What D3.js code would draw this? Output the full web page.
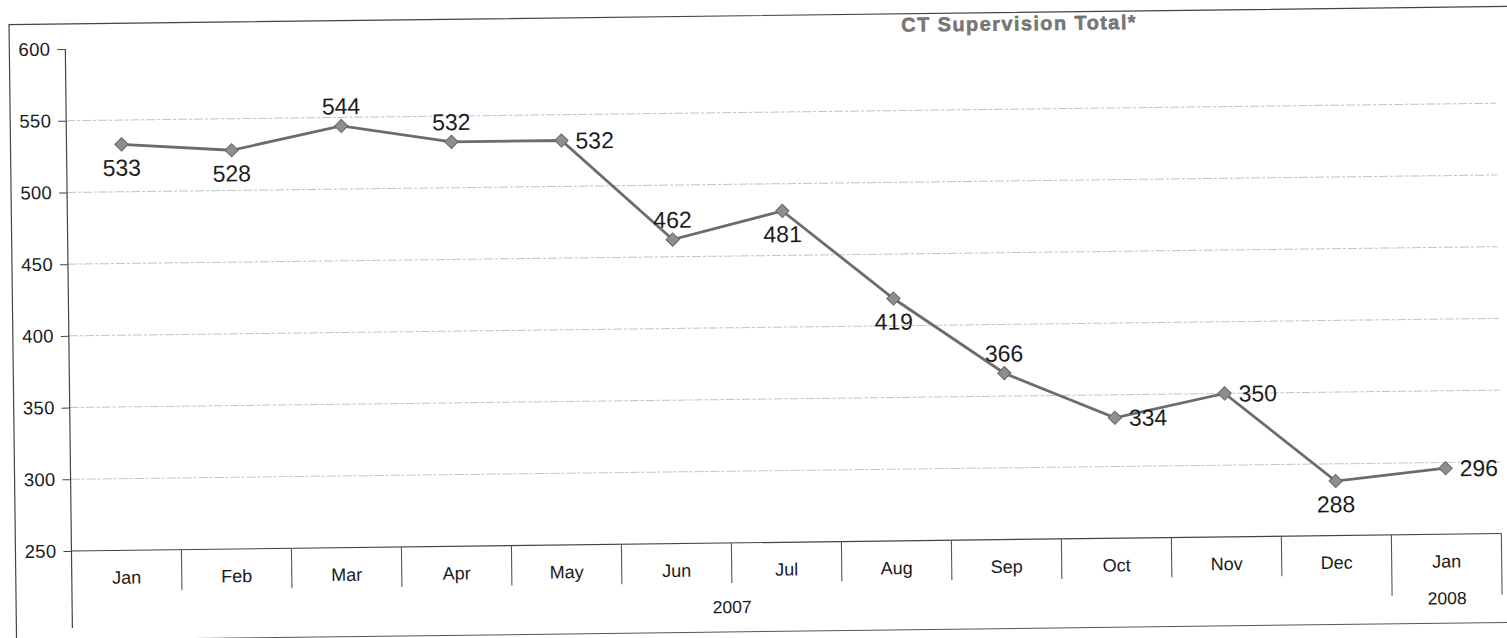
<!DOCTYPE html>
<html>
<head>
<meta charset="utf-8">
<script src="https://cdn.jsdelivr.net/npm/d3@7"></script>
<style>
  html, body { margin: 0; padding: 0; background: #fff; }
  svg { display: block; font-family: "Liberation Sans", Arial, sans-serif; }
</style>
</head>
<body>
<svg id="chart" width="1507" height="638"></svg>
<script>
// ---- data ----
const months = ["Jan","Feb","Mar","Apr","May","Jun","Jul","Aug","Sep","Oct","Nov","Dec","Jan"];
const values = [533, 528, 544, 532, 532, 462, 481, 419, 366, 334, 350, 288, 296];
const labelPlacement = ["below","below","above","above","right","above","below","below","above","right","right","below","right"];
const yearLabels = ["2007", "2008"];
const yearSpans = [12, 1];
const yTicks = [250, 300, 350, 400, 450, 500, 550, 600];
const gridTicks = [300, 350, 400, 450, 500, 550];
const chartTitle = "CT Supervision Total*";

// ---- layout ----
(function () {
const svg = d3.select("#chart");
const plotLeft = 69, plotRight = 1499, plotTop = 49, plotBase = 551;
const FONT = "Liberation Sans, Arial, sans-serif";
const g = svg.append("g").attr("transform", "rotate(-0.7, 69, 350)");

const x = d3.scaleBand().domain(d3.range(months.length)).range([plotLeft, plotRight]).paddingInner(0).paddingOuter(0);
const y = d3.scaleLinear().domain([250, 600]).range([plotBase, plotTop]);

// frame
g.append("path")
  .attr("d", "M13,700 L13,24 L1560,24")
  .attr("fill", "none").attr("stroke", "#444").attr("stroke-width", 1.2);
g.append("line")
  .attr("x1", 13).attr("x2", 1560).attr("y1", 640).attr("y2", 640)
  .attr("stroke", "#555").attr("stroke-width", 1);

// gridlines
g.append("g").selectAll("line").data(gridTicks).join("line")
  .attr("x1", plotLeft).attr("x2", plotRight)
  .attr("y1", d => y(d)).attr("y2", d => y(d))
  .attr("stroke", "#c4c4c4").attr("stroke-width", 1)
  .attr("stroke-dasharray", "9,2,3,2");

// y axis
const yAxis = d3.axisLeft(y).tickValues(yTicks).tickSize(8).tickPadding(7).tickFormat(d3.format("d"));
const ya = g.append("g").attr("transform", `translate(${plotLeft},0)`).call(yAxis);
ya.attr("font-size", null).attr("font-family", null);
ya.select(".domain").remove();
ya.selectAll(".tick line").attr("stroke", "#444");
ya.selectAll(".tick text").attr("fill", "#1a1a1a")
  .style("font-size", "18.5px").style("font-family", FONT).attr("letter-spacing", 0.3);
g.append("line").attr("x1", plotLeft).attr("x2", plotLeft).attr("y1", plotTop).attr("y2", 628)
  .attr("stroke", "#444").attr("stroke-width", 1.2);

// x baseline
g.append("line").attr("x1", plotLeft).attr("x2", plotRight).attr("y1", plotBase).attr("y2", plotBase)
  .attr("stroke", "#444").attr("stroke-width", 1.2);

// category separators
const boundaries = d3.range(1, months.length + 1);
const yearEnds = [];
let acc = 0;
yearSpans.forEach(s => { acc += s; yearEnds.push(acc); });
g.append("g").selectAll("line").data(boundaries).join("line")
  .attr("x1", i => x(i - 1) + x.bandwidth()).attr("x2", i => x(i - 1) + x.bandwidth())
  .attr("y1", plotBase).attr("y2", i => yearEnds.includes(i) ? 612 : 591)
  .attr("stroke", "#555").attr("stroke-width", 1.1);

// month labels
g.append("g").selectAll("text").data(months).join("text")
  .attr("x", (d, i) => x(i) + x.bandwidth() / 2)
  .attr("y", 578).attr("dy", "0.35em")
  .attr("text-anchor", "middle").style("font-size", "18px").style("font-family", FONT).attr("fill", "#1a1a1a")
  .text(d => d);

// year labels
let start = 0;
const yearData = yearLabels.map((lab, k) => {
  const s = start; start += yearSpans[k];
  return { lab, s, e: start - 1 };
});
g.append("g").selectAll("text").data(yearData).join("text")
  .attr("x", d => (x(d.s) + x(d.e) + x.bandwidth()) / 2)
  .attr("y", 615).attr("dy", "0.35em")
  .attr("text-anchor", "middle").style("font-size", "17.5px").style("font-family", FONT).attr("fill", "#1a1a1a")
  .text(d => d.lab);

// line
const line = d3.line().x((d, i) => x(i) + x.bandwidth() / 2).y(d => y(d));
g.append("path").datum(values)
  .attr("d", line).attr("fill", "none")
  .attr("stroke", "#6c6c6c").attr("stroke-width", 2.8);

// markers
const sym = d3.symbol().type(d3.symbolSquare).size(88);
g.append("g").selectAll("path").data(values).join("path")
  .attr("d", sym)
  .attr("transform", (d, i) => `translate(${x(i) + x.bandwidth() / 2},${y(d)}) rotate(45)`)
  .attr("fill", "#8e8e8e").attr("stroke", "#666").attr("stroke-width", 1);

// data labels
g.append("g").selectAll("text").data(values).join("text")
  .attr("x", (d, i) => {
    const cx = x(i) + x.bandwidth() / 2;
    return labelPlacement[i] === "right" ? cx + 14 : cx;
  })
  .attr("y", (d, i) => {
    const p = labelPlacement[i];
    return y(d) + (p === "above" ? -20 : p === "below" ? 23 : 0);
  })
  .attr("dy", "0.36em")
  .attr("text-anchor", (d, i) => labelPlacement[i] === "right" ? "start" : "middle")
  .style("font-size", "23px").style("font-family", FONT).attr("fill", "#1c1c1c")
  .text(d => d);

// title
g.append("text")
  .attr("x", 1023).attr("y", 35).attr("dy", "0.35em")
  .attr("text-anchor", "middle")
  .style("font-size", "20px").style("font-family", FONT).attr("font-weight", "bold").attr("letter-spacing", 1.4)
  .attr("fill", "#7a7a7a").attr("stroke", "#555").attr("stroke-width", 0.4)
  .text(chartTitle);
})();
</script>
</body>
</html>
